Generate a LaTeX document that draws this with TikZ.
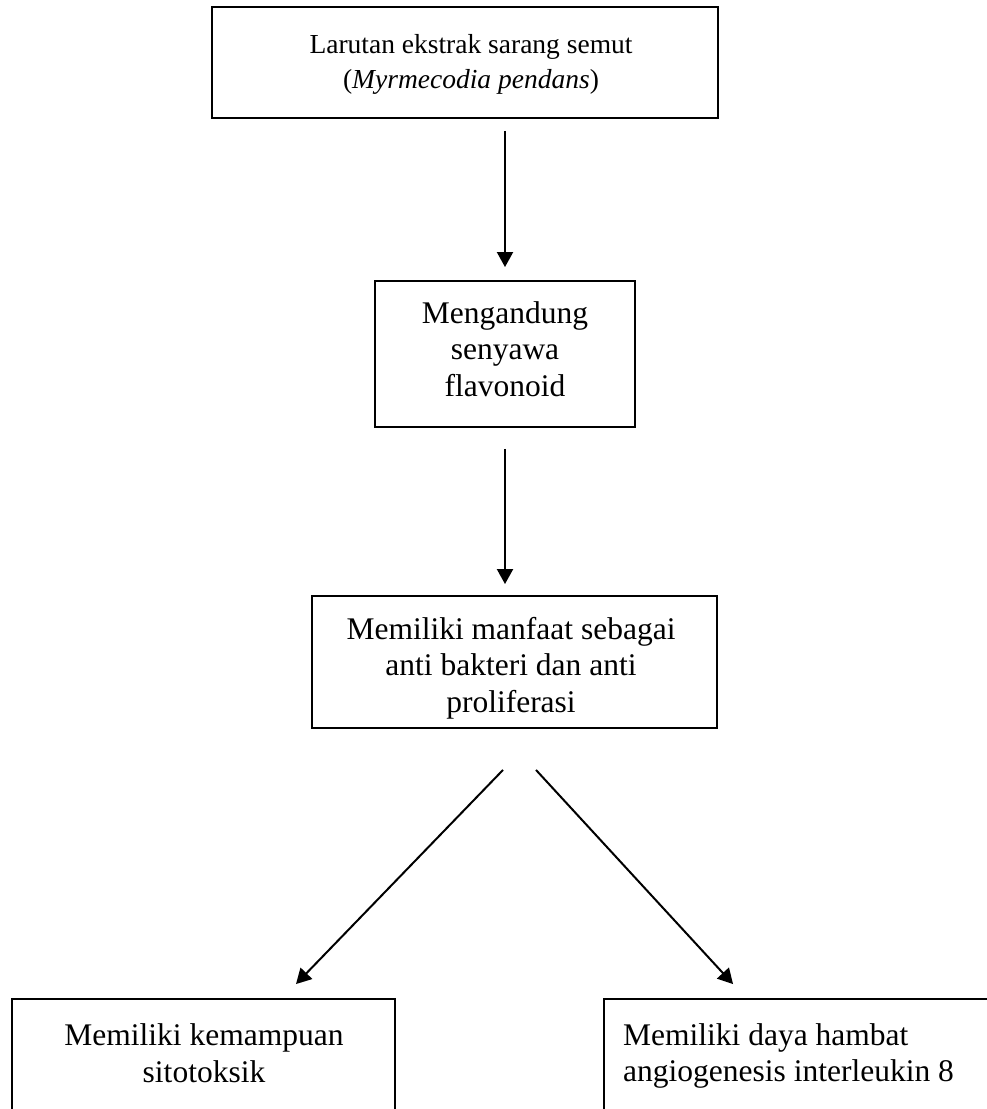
\documentclass[tikz,border=0pt]{standalone}
\usepackage{fontspec}
\setmainfont{Liberation Serif}
\usetikzlibrary{arrows.meta,calc}
\tikzset{
  boxshape/.style={draw, line width=1.9pt, inner sep=0pt},
  boxtext/.style={inner sep=0pt, align=center, font=\fontsize{31.5}{36.5}\selectfont},
  arr/.style={line width=2pt, -{Triangle[length=15pt,width=16pt]}}
}
\begin{document}
\begin{tikzpicture}[x=1pt,y=-1pt]
\useasboundingbox (0,0) rectangle (987,1109);
\clip (0,0) rectangle (987,1109);
% boxes
\node[boxshape, minimum width=506pt, minimum height=111pt] (b1) at (465,62.5) {};
\node[boxshape, minimum width=260pt, minimum height=146pt] (b2) at (505,354) {};
\node[boxshape, minimum width=405pt, minimum height=132pt] (b3) at (514.5,662) {};
\node[boxshape, minimum width=383pt, minimum height=200pt] (b4) at (203.5,1099) {};
\node[boxshape, minimum width=420pt, minimum height=200pt] (b5) at (814,1099) {};
% texts
\node[boxtext, font=\fontsize{27.5}{35}\selectfont] (t1) at (471,64.5) {Larutan ekstrak sarang semut\\(\textit{Myrmecodia pendans})};
\node[boxtext] (t2) at (505,349) {Mengandung\\senyawa\\flavonoid};
\node[boxtext] (t3) at (511,668) {Memiliki manfaat sebagai\\anti bakteri dan anti\\proliferasi};
\node[boxtext] (t4) at (204,1053) {Memiliki kemampuan\\sitotoksik};
\node[boxtext, align=left, anchor=west] (t5) at (623,1056) {Memiliki daya hambat\\angiogenesis interleukin 8};
% connectors
\draw[arr, shorten <=12pt, shorten >=13pt] (b1.south -| b2.north) -- (b2.north);
\draw[arr, shorten <=21pt, shorten >=11pt] (b2.south) -- (b2.south |- b3.north);
\coordinate (d1) at ($(b3.south)+(-11.5,41)$);
\coordinate (d2) at ($(b3.south)+(21.5,41)$);
\coordinate (e1) at ($(b4.north)+(92.5,-14)$);
\coordinate (e2) at ($(b5.north west)+(130,-14)$);
\draw[arr] (d1) -- (e1);
\draw[arr] (d2) -- (e2);
\end{tikzpicture}
\end{document}
